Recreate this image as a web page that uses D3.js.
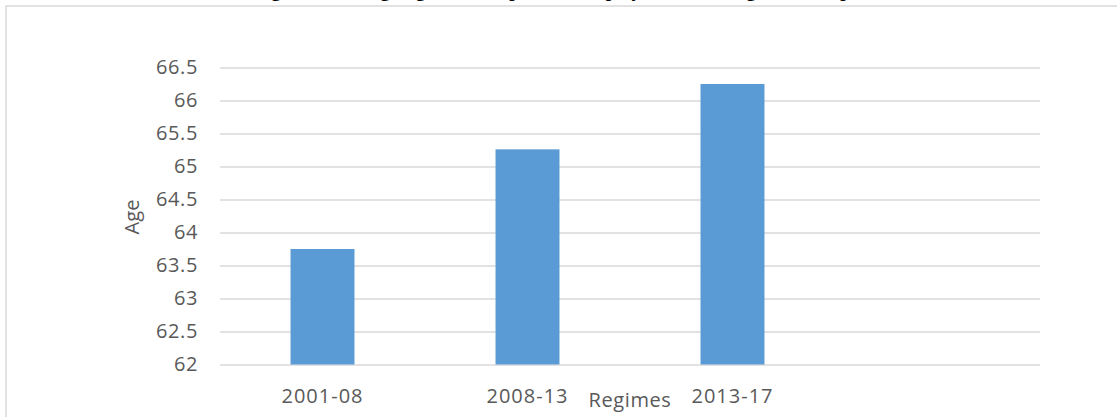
<!DOCTYPE html>
<html>
<head>
<meta charset="utf-8">
<script src="https://cdn.jsdelivr.net/npm/d3@7"></script>
<style>
  body { margin: 0; background: #fff; }
  #graphic1 { width: 1117px; height: 417px; }
  text { font-family: "Open Sans", sans-serif; }
</style>
</head>
<body>
<div id="graphic1"></div>
<script>
var regimes = ["2001-08", "2008-13", "2013-17", ""],
    ages = [63.75, 65.26, 66.25, null],
    yTicks = [62, 62.5, 63, 63.5, 64, 64.5, 65, 65.5, 66, 66.5],
    titleText = "Figure 4: Average Age of the Top Leadership by Different Regimes in Nepal";

function graph1() {

    var margin = {
        top: 67.5,
        right: 77,
        bottom: 52.5,
        left: 220
    };

    var width = 1117 - margin.left - margin.right,
        height = 417 - margin.top - margin.bottom;

    var root = d3.select("#graphic1").append("svg")
        .attr("width", 1117)
        .attr("height", 417);

    // chart frame, runs off the bottom/right of the picture
    root.append("rect")
        .attr("x", 6)
        .attr("y", 6)
        .attr("width", 1140)
        .attr("height", 440)
        .attr("fill", "none")
        .attr("stroke", "#d9d9d9")
        .attr("stroke-width", 1.5);

    // title, cut off at the top like the source (only descenders show)
    root.append("text")
        .attr("x", 560)
        .attr("y", -3.5)
        .attr("text-anchor", "middle")
        .style("font-family", "'Liberation Serif', serif")
        .style("font-weight", "bold")
        .style("font-size", "19px")
        .attr("fill", "#000")
        .text(titleText);

    var svg = root.append("g")
        .attr("transform", "translate(" + margin.left + "," + margin.top + ")");

    var x = d3.scaleBand()
        .domain(regimes)
        .range([0, width])
        .paddingInner(0.688)
        .paddingOuter(0.344);

    var y = d3.scaleLinear()
        .domain([62, 66.5])
        .range([height, 0]);

    var yAxis = d3.axisLeft(y)
        .tickValues(yTicks)
        .tickSize(-width)
        .tickPadding(22)
        .tickFormat(d3.format("~g"));

    var gy = svg.append("g").call(yAxis);
    gy.select(".domain").remove();
    gy.selectAll(".tick line")
        .attr("stroke", "#d9d9d9")
        .attr("stroke-width", 1.5);
    gy.selectAll(".tick text")
        .attr("fill", "#595959")
        .style("font-size", "20px")
        .style("letter-spacing", "0.6px");

    svg.selectAll(".bar")
        .data(regimes.filter(function (d, i) { return ages[i] != null; }))
        .enter().append("rect")
        .attr("class", "bar")
        .attr("x", function (d) { return x(d); })
        .attr("width", x.bandwidth())
        .attr("y", function (d) { return y(ages[regimes.indexOf(d)]); })
        .attr("height", function (d) { return height - y(ages[regimes.indexOf(d)]); })
        .attr("fill", "#5b9bd5");

    var gx = svg.append("g")
        .attr("transform", "translate(0," + height + ")")
        .call(d3.axisBottom(x).tickSize(0).tickPadding(24));
    gx.select(".domain").remove();
    gx.selectAll(".tick text")
        .attr("fill", "#595959")
        .style("font-size", "20px")
        .style("letter-spacing", "1px");

    svg.append("text")
        .attr("x", 630 - margin.left)
        .attr("y", height + 42)
        .attr("text-anchor", "middle")
        .attr("fill", "#595959")
        .style("font-size", "20px")
        .style("letter-spacing", "0.6px")
        .text("Regimes");

    svg.append("text")
        .attr("transform", "translate(" + (139 - margin.left) + "," + (217 - margin.top) + ") rotate(-90)")
        .attr("text-anchor", "middle")
        .attr("fill", "#595959")
        .style("font-size", "20px")
        .text("Age");
}

graph1();
</script>
</body>
</html>
